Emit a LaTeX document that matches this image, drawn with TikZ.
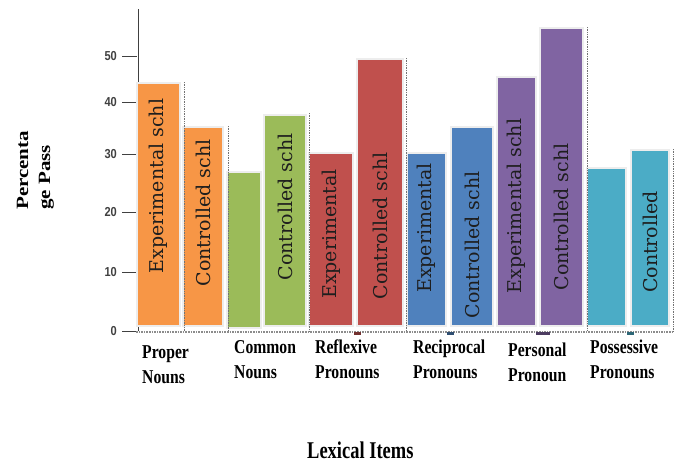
\documentclass[tikz,border=0pt]{standalone}
\usepackage{fontspec}
\setmainfont{Liberation Serif}
\newfontfamily\barfont{DejaVu Serif}
\newfontfamily\tickfont{Liberation Sans}
\definecolor{corange}{HTML}{F79646}
\definecolor{cgreen}{HTML}{9BBB59}
\definecolor{cred}{HTML}{C0504D}
\definecolor{cblue}{HTML}{4F81BD}
\definecolor{cpurple}{HTML}{8064A2}
\definecolor{cteal}{HTML}{4BACC6}
\definecolor{textdark}{HTML}{1E1E1E}
\tikzset{
  barbox/.style={draw=black!7, line width=2.5pt},
  bartext/.style={rotate=90, inner sep=0pt, text=textdark, font=\barfont\fontsize{19}{22}\selectfont},
  shadowline/.style={densely dotted, draw=black!55, line width=0.7pt},
  ticklabel/.style={anchor=east, inner sep=0pt, text=black!75, font=\tickfont\bfseries\fontsize{13}{15}\selectfont},
  catlabel/.style={anchor=base west, inner sep=0pt, text=black, font=\bfseries\fontsize{19.6}{25}\selectfont},
  axisline/.style={draw=black!75, line width=1pt}
}
\newcommand\mybar[7]{%
  \draw[barbox, fill=#4] (#1,#3) rectangle (#2,326);
  \node[bartext] (#7) at ({(#1+#2)/2},#6) {#5};
}
\newcommand\catlines[2]{\scalebox{0.8}[1]{\begin{tabular}[t]{@{}l@{}}#1\\#2\end{tabular}}}
\begin{document}
\begin{tikzpicture}[x=1pt,y=-1pt]
\useasboundingbox (0,0) rectangle (680,463);
\fill[white] (0,0) rectangle (680,463);

% y axis
\coordinate (ytop) at (138,9);
\coordinate (yorig) at (138,331);
\draw[axisline] (ytop) -- (yorig);
\foreach \v/\y in {0/331,10/272,20/212,30/154,40/102,50/56}{
  \coordinate (t\v) at (137,\y);
  \coordinate (tl\v) at (122,\y);
  \draw[axisline] (tl\v) -- (t\v);
  \node[ticklabel] (lab\v) at (117,\y) {\scalebox{0.85}[1]{\v}};
}

% baseline shadow
\coordinate (bl) at (136,332);
\coordinate (br) at (673,332);
\draw[densely dotted, draw=black!45, line width=1.6pt] (bl) -- (br);

% bars
\mybar{137}{180}{83}{corange}{Experimental schl}{186}{b1}
\mybar{183}{223}{127}{corange}{Controlled schl}{213}{b2}
\draw[barbox, fill=cgreen] (227,172) rectangle (261,328);
\mybar{264}{306}{115}{cgreen}{Controlled schl}{207}{b4}
\mybar{309}{353}{153}{cred}{Experimental}{234}{b5}
\mybar{357}{403}{59}{cred}{Controlled schl}{226}{b6}
\mybar{407}{446}{153}{cblue}{Experimental}{228}{b7}
\mybar{451}{493}{127}{cblue}{Controlled schl}{245}{b8}
\mybar{497}{536}{77}{cpurple}{Experimental schl}{206}{b9}
\mybar{540}{583}{28}{cpurple}{Controlled schl}{217}{b10}
\draw[barbox, fill=cteal] (587,168) rectangle (626,326);
\mybar{631}{669}{150}{cteal}{Controlled}{242}{b12}

% dotted shadow edges
\foreach \x/\t in {184/82,228/126,309/113,406/58,587/27,673/149}{
  \coordinate (sa\x) at (\x,\t);
  \coordinate (sb\x) at (\x,331);
  \draw[shadowline] (sa\x) -- (sb\x);
}

% small category marks
\fill[cred!60!black] (354,332) rectangle (361,334.5);
\fill[cblue!60!black] (447,332) rectangle (454,334.5);
\fill[cpurple!60!black] (536,332) rectangle (550,334.5);
\fill[cteal!60!black] (627,332) rectangle (634,334.5);

% category labels
\node[catlabel] (c1) at (142,358) {\catlines{Proper}{Nouns}};
\node[catlabel] (c2) at (234,353) {\catlines{Common}{Nouns}};
\node[catlabel] (c3) at (315,353) {\catlines{Reflexive}{Pronouns}};
\node[catlabel] (c4) at (413,353) {\catlines{Reciprocal}{Pronouns}};
\node[catlabel] (c5) at (508,356) {\catlines{Personal}{Pronoun}};
\node[catlabel] (c6) at (590,353) {\catlines{Possessive}{Pronouns}};

% axis titles
\node[rotate=90, anchor=base west, inner sep=0pt, font=\bfseries\fontsize{21}{27}\selectfont] (ytitle) at (28,210)
  {\scalebox{1}[0.82]{\begin{tabular}[t]{@{}l@{}}Percenta\\ge Pass\end{tabular}}};
\node[anchor=base west, inner sep=0pt, font=\bfseries\fontsize{24}{28}\selectfont] (xtitle) at (307,458)
  {\scalebox{0.77}[1]{Lexical Items}};
\end{tikzpicture}
\end{document}
